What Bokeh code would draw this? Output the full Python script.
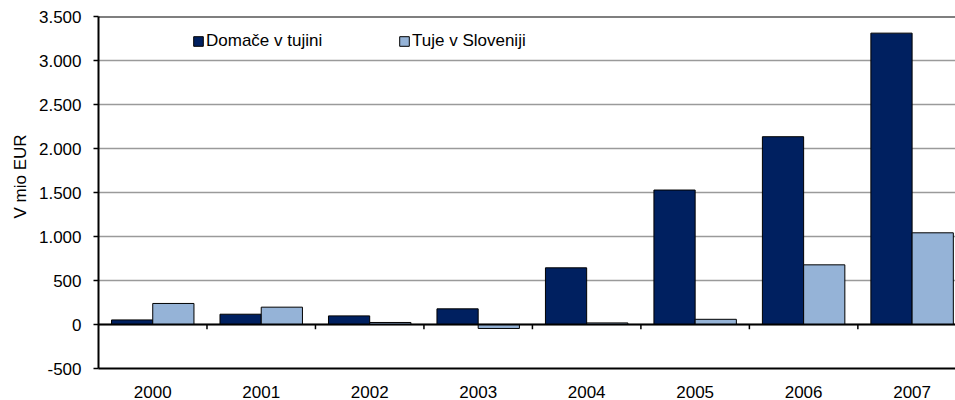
from bokeh.embed import file_html
from bokeh.models import ColumnDataSource, Legend, LegendItem, Range1d, Span, FixedTicker, Title
from bokeh.plotting import figure
from bokeh.resources import INLINE

# Net direct investment flows, million EUR
years = ["2000", "2001", "2002", "2003", "2004", "2005", "2006", "2007"]
domace = [52, 117, 98, 178, 644, 1528, 2134, 3311]      # Domače v tujini
tuje = [239, 197, 23, -45, 18, 59, 678, 1042]           # Tuje v Sloveniji

y_ticks = [-500, 0, 500, 1000, 1500, 2000, 2500, 3000, 3500]
y_tick_labels = ["-500", "0", "500", "1.000", "1.500", "2.000", "2.500", "3.000", "3.500"]

DARK = "#002060"
LIGHT = "#95B3D7"
FONT = "Liberation Sans"
FS = "17px"

bar_w = 0.38
centers = [i + 0.5 for i in range(len(years))]
src = ColumnDataSource(dict(
    x_dom=[c - bar_w / 2 for c in centers],
    x_tuj=[c + bar_w / 2 for c in centers],
    domace=domace,
    tuje=tuje,
))

p = figure(width=955, height=400, output_backend="svg", toolbar_location=None,
           x_range=Range1d(0, 7.9), y_range=Range1d(-500, 3500),
           min_border_left=98, min_border_right=0, min_border_top=16, min_border_bottom=32)
p.outline_line_color = None
p.background_fill_color = "white"
p.border_fill_color = "white"

r_dom = p.vbar(x="x_dom", top="domace", bottom=0, width=bar_w, source=src,
               fill_color=DARK, line_color="black", line_width=1)
r_tuj = p.vbar(x="x_tuj", top="tuje", bottom=0, width=bar_w, source=src,
               fill_color=LIGHT, line_color="black", line_width=1)

# zero line, top border and category boundary ticks
p.add_layout(Span(location=0, dimension="width", line_color="black", line_width=2))
p.add_layout(Span(location=3500, dimension="width", line_color="black", line_width=2))
p.segment(x0=list(range(1, len(years))), x1=list(range(1, len(years))),
          y0=[0] * (len(years) - 1), y1=[-55] * (len(years) - 1),
          line_color="black", line_width=1.5)

# y axis
p.yaxis.ticker = FixedTicker(ticks=y_ticks)
p.yaxis.major_label_overrides = {t: s for t, s in zip(y_ticks, y_tick_labels)}
p.yaxis.axis_line_color = "black"
p.yaxis.axis_line_width = 2
p.yaxis.major_tick_line_color = "black"
p.yaxis.major_tick_line_width = 1.5
p.yaxis.major_tick_in = 0
p.yaxis.major_tick_out = 5
p.yaxis.minor_tick_line_color = None
p.yaxis.major_label_standoff = 12
p.yaxis.major_label_text_font = FONT
p.yaxis.major_label_text_font_size = FS
p.yaxis.major_label_text_color = "black"

# y axis title as a side title, measured up from the bottom of the frame
p.add_layout(Title(text="V mio EUR", align="left", offset=150, standoff=11,
                   text_font=FONT, text_font_size=FS, text_font_style="normal",
                   text_color="black"), "left")

# x axis: year labels along the bottom
p.xaxis.ticker = FixedTicker(ticks=centers)
p.xaxis.major_label_overrides = {c: y for c, y in zip(centers, years)}
p.xaxis.axis_line_color = "black"
p.xaxis.axis_line_width = 2
p.xaxis.major_tick_line_color = None
p.xaxis.minor_tick_line_color = None
p.xaxis.major_label_standoff = 11
p.xaxis.major_label_text_font = FONT
p.xaxis.major_label_text_font_size = FS
p.xaxis.major_label_text_color = "black"

p.xgrid.grid_line_color = None
p.ygrid.ticker = FixedTicker(ticks=y_ticks)
p.ygrid.grid_line_color = "#9A9A9A"
p.ygrid.grid_line_width = 1.5

# legend, one entry each so the spacing is fixed
for item, loc in ((LegendItem(label="Domače v tujini", renderers=[r_dom]), (94, 317)),
                  (LegendItem(label="Tuje v Sloveniji", renderers=[r_tuj]), (300, 317))):
    lg = Legend(items=[item], location=loc, orientation="horizontal",
                border_line_color=None, background_fill_alpha=0,
                padding=0, margin=0, spacing=0,
                glyph_width=12, glyph_height=12, label_standoff=2,
                label_text_font=FONT, label_text_font_size=FS,
                label_text_color="black", label_height=14)
    p.add_layout(lg)

open("out.html", "w").write(file_html(p, INLINE))
